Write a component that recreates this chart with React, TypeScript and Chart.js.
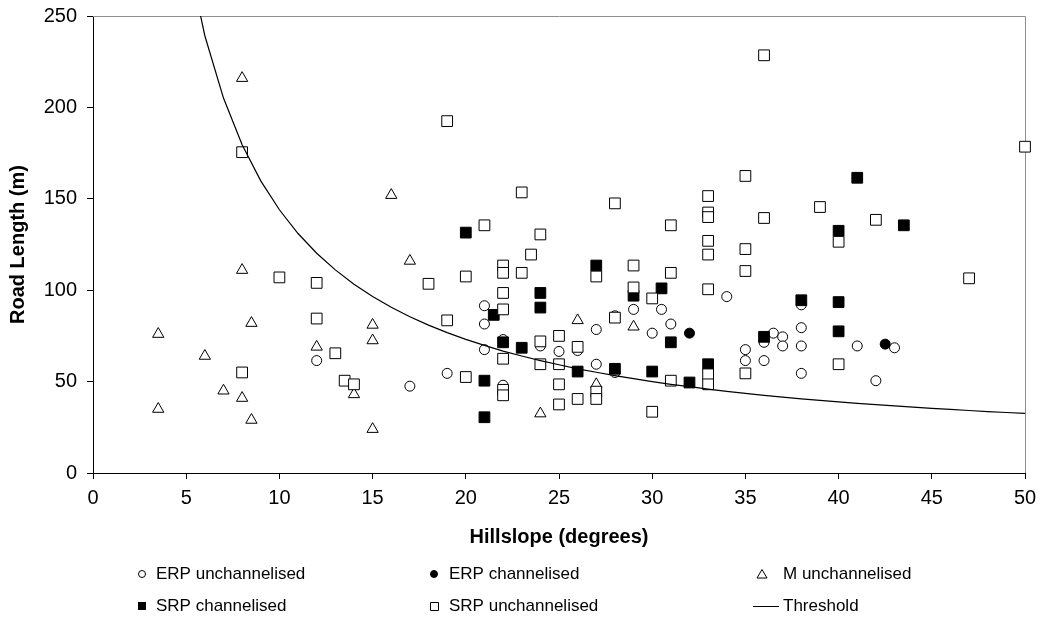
import React, { useEffect, useRef } from "react";
import { Chart, registerables } from "chart.js";

Chart.register(...registerables);

const FONT = "'Liberation Sans', Arial, Helvetica, sans-serif";

// ERP unchannelised (open circles)
const erpUnchSlope = [12, 17, 19, 21, 21, 21, 22, 22, 24, 25, 26, 27, 27, 28, 28, 29, 30, 30.5, 31, 34, 35, 35, 36, 36, 36.5, 37, 37, 38, 38, 38, 38, 41, 42, 43];
const erpUnchLength = [61.5, 47.5, 54.5, 91.5, 81.5, 67.5, 48, 73, 69.5, 66.5, 67, 78.5, 59.5, 86, 55, 89.5, 76.5, 89.5, 81.5, 96.5, 67.5, 61.5, 61.5, 71.5, 76.5, 74.5, 69.5, 92, 79.5, 69.5, 54.5, 69.5, 50.5, 68.5];

// ERP channelised (filled circles)
const erpChSlope = [32, 42.5];
const erpChLength = [76.5, 70.5];

// M unchannelised (open triangles)
const mUnchSlope = [3.5, 3.5, 6, 7, 8, 8, 8, 8.5, 8.5, 12, 14, 15, 15, 15, 16, 17, 24, 26, 27, 29];
const mUnchLength = [76, 35, 64, 45, 216, 111, 41, 82, 29, 69, 43, 81, 72.5, 24, 152, 116, 32.5, 83.5, 48.5, 80];

// SRP channelised (filled squares)
const srpChSlope = [20, 21, 21, 21.5, 22, 23, 24, 24, 26, 27, 28, 29, 30, 30.5, 31, 32, 33, 36, 38, 40, 40, 40, 41, 43.5];
const srpChLength = [131.5, 50.5, 30.5, 86.5, 71.5, 68.5, 98.5, 90.5, 55.5, 113.5, 57, 97, 55.5, 101, 71.5, 49.5, 59.5, 74.5, 94.5, 93.5, 77.5, 132.5, 161.5, 135.5];

// SRP unchannelised (open squares)
const srpUnchSlope = [8, 8, 10, 12, 12, 13, 13.5, 14, 18, 19, 19, 20, 20, 21, 22, 22, 22, 22, 22, 22, 22, 23, 23, 23.5, 24, 24, 24, 25, 25, 25, 25, 26, 26, 27, 27, 27, 28, 28, 29, 29, 30, 30, 31, 31, 31, 33, 33, 33, 33, 33, 33, 33, 33, 35, 35, 35, 35, 36, 36, 39, 40, 40, 42, 47, 50];
const srpUnchLength = [175.5, 55, 107, 104, 84.5, 65.5, 50.5, 48.5, 103.5, 192.5, 83.5, 107.5, 52.5, 135.5, 113.5, 109.5, 98.5, 89.5, 62.5, 45.5, 42.5, 153.5, 109.5, 119.5, 130.5, 72, 59.5, 75, 59.5, 48.5, 37.5, 69, 40.5, 107.5, 44.5, 40.5, 147.5, 85, 113.5, 101.5, 95.5, 33.5, 135.5, 109.5, 50.5, 151.5, 142.5, 140, 127, 119.5, 100.5, 54, 48.5, 162.5, 122.5, 110.5, 54.5, 228.5, 139.5, 145.5, 126.5, 59.5, 138.5, 106.5, 178.5];

// Threshold curve
const thresholdSlope = [5, 6, 7, 8, 9, 10, 11, 12, 13, 14, 15, 16, 17, 18, 19, 20, 21, 22, 23, 24, 25, 26, 27, 28, 29, 30, 31, 32, 33, 34, 35, 36, 37, 38, 39, 40, 41, 42, 43, 44, 45, 46, 47, 48, 49, 50];
const thresholdLength = [286.8, 239.2, 205.1, 179.6, 159.8, 144.0, 131.0, 120.2, 111.1, 103.3, 96.6, 90.7, 85.5, 80.9, 76.8, 73.1, 69.8, 66.7, 64.0, 61.5, 59.2, 57.0, 55.1, 53.3, 51.6, 50.0, 48.5, 47.2, 45.9, 44.7, 43.6, 42.5, 41.5, 40.6, 39.7, 38.9, 38.1, 37.4, 36.7, 36.0, 35.4, 34.8, 34.2, 33.6, 33.1, 32.6];

const xTickValues = [0, 5, 10, 15, 20, 25, 30, 35, 40, 45, 50];
const yTickValues = [0, 50, 100, 150, 200, 250];

const xTitle = "Hillslope (degrees)";
const yTitle = "Road Length (m)";

const legendLabels = [
  "ERP unchannelised",
  "ERP channelised",
  "M unchannelised",
  "SRP channelised",
  "SRP unchannelised",
  "Threshold",
];

const toPoints = (xs: number[], ys: number[]) => xs.map((x, i) => ({ x, y: ys[i] }));

const framePlugin = {
  id: "frameLines",
  beforeDatasetsDraw(chart: any) {
    const { ctx, chartArea } = chart;
    ctx.save();
    ctx.strokeStyle = "#8f8f8f";
    ctx.lineWidth = 1;
    ctx.beginPath();
    ctx.moveTo(chartArea.left, Math.round(chartArea.top) + 0.5);
    ctx.lineTo(Math.round(chartArea.right) + 0.5, Math.round(chartArea.top) + 0.5);
    ctx.lineTo(Math.round(chartArea.right) + 0.5, chartArea.bottom);
    ctx.stroke();
    ctx.restore();
  },
};

const legendPlugin = {
  id: "gridLegend",
  afterDraw(chart: any) {
    const ctx = chart.ctx as CanvasRenderingContext2D;
    const symX = [142, 434, 762];
    const textX = [156, 449, 783];
    const rowY = [574, 606];
    ctx.save();
    ctx.font = `17px ${FONT}`;
    ctx.textBaseline = "middle";
    ctx.textAlign = "left";
    ctx.fillStyle = "#000";
    ctx.strokeStyle = "#000";
    ctx.lineWidth = 1;
    legendLabels.forEach((label, i) => {
      const col = i % 3;
      const row = Math.floor(i / 3);
      const cx = symX[col];
      const cy = rowY[row];
      ctx.beginPath();
      if (i === 0) {
        ctx.arc(cx, cy, 3.5, 0, Math.PI * 2);
        ctx.fillStyle = "#fff";
        ctx.fill();
        ctx.stroke();
      } else if (i === 1) {
        ctx.arc(cx, cy, 3.5, 0, Math.PI * 2);
        ctx.fillStyle = "#000";
        ctx.fill();
        ctx.stroke();
      } else if (i === 2) {
        ctx.moveTo(cx, cy - 4.5);
        ctx.lineTo(cx + 5, cy + 4);
        ctx.lineTo(cx - 5, cy + 4);
        ctx.closePath();
        ctx.fillStyle = "#fff";
        ctx.fill();
        ctx.stroke();
      } else if (i === 3) {
        ctx.rect(cx - 4, cy - 4, 8, 8);
        ctx.fillStyle = "#000";
        ctx.fill();
      } else if (i === 4) {
        ctx.rect(cx - 3.5, cy - 3.5, 8, 8);
        ctx.fillStyle = "#fff";
        ctx.fill();
        ctx.stroke();
      } else {
        ctx.moveTo(cx - 9, cy + 0.5);
        ctx.lineTo(cx + 17, cy + 0.5);
        ctx.stroke();
      }
      ctx.fillStyle = "#000";
      ctx.fillText(label, textX[col], cy);
    });
    ctx.restore();
  },
};

export default function App() {
  const canvasRef = useRef<HTMLCanvasElement | null>(null);

  useEffect(() => {
    if (!canvasRef.current) return;
    const tickFont = { family: FONT, size: 20 };
    const titleFont = { family: FONT, size: 20, weight: "bold" as const };

    const chart = new Chart(canvasRef.current, {
      type: "scatter",
      data: {
        datasets: [
          {
            label: "Threshold",
            data: toPoints(thresholdSlope, thresholdLength),
            showLine: true,
            pointRadius: 0,
            borderColor: "#000",
            backgroundColor: "#000",
            borderWidth: 1.2,
            order: 0,
          } as any,
          {
            label: "SRP unchannelised",
            data: toPoints(srpUnchSlope, srpUnchLength),
            pointStyle: "rect",
            pointRadius: 7.6,
            backgroundColor: "#fff",
            borderColor: "#000",
            borderWidth: 1,
            clip: false,
            order: 1,
          } as any,
          {
            label: "SRP channelised",
            data: toPoints(srpChSlope, srpChLength),
            pointStyle: "rect",
            pointRadius: 7.6,
            backgroundColor: "#000",
            borderColor: "#000",
            borderWidth: 1,
            clip: false,
            order: 2,
          } as any,
          {
            label: "M unchannelised",
            data: toPoints(mUnchSlope, mUnchLength),
            pointStyle: "triangle",
            pointRadius: 6.5,
            backgroundColor: "#fff",
            borderColor: "#000",
            borderWidth: 1,
            clip: false,
            order: 3,
          } as any,
          {
            label: "ERP channelised",
            data: toPoints(erpChSlope, erpChLength),
            pointStyle: "circle",
            pointRadius: 5,
            backgroundColor: "#000",
            borderColor: "#000",
            borderWidth: 1,
            clip: false,
            order: 4,
          } as any,
          {
            label: "ERP unchannelised",
            data: toPoints(erpUnchSlope, erpUnchLength),
            pointStyle: "circle",
            pointRadius: 5,
            backgroundColor: "#fff",
            borderColor: "#000",
            borderWidth: 1,
            clip: false,
            order: 5,
          } as any,
        ],
      },
      options: {
        animation: false,
        responsive: false,
        devicePixelRatio: 1,
        events: [],
        layout: { padding: { top: 16, right: 14, left: 0, bottom: 0 } },
        plugins: {
          legend: { display: false },
          tooltip: { enabled: false },
        },
        scales: {
          x: {
            type: "linear",
            min: 0,
            max: 50,
            afterBuildTicks: (scale: any) => {
              scale.ticks = xTickValues.map((v) => ({ value: v }));
            },
            afterFit: (scale: any) => {
              scale.height = 155;
              scale.paddingLeft = 0;
              scale.paddingRight = 0;
              scale.paddingTop = 0;
              scale.paddingBottom = 0;
            },
            ticks: { font: tickFont, color: "#000", padding: 7, maxRotation: 0, autoSkip: false },
            grid: { display: true, drawOnChartArea: false, drawTicks: true, tickLength: 6, tickColor: "#000", color: "#000" },
            border: { display: true, color: "#000", width: 1 },
            title: {
              display: true,
              text: xTitle,
              font: titleFont,
              color: "#000",
              padding: { top: 0, bottom: 79 },
            },
          },
          y: {
            type: "linear",
            min: 0,
            max: 250,
            afterBuildTicks: (scale: any) => {
              scale.ticks = yTickValues.map((v) => ({ value: v }));
            },
            afterFit: (scale: any) => {
              scale.width = 93;
              scale.paddingLeft = 0;
              scale.paddingRight = 0;
              scale.paddingTop = 0;
              scale.paddingBottom = 0;
            },
            ticks: { font: tickFont, color: "#000", padding: 10 },
            grid: { display: true, drawOnChartArea: false, drawTicks: true, tickLength: 6, tickColor: "#000", color: "#000" },
            border: { display: true, color: "#000", width: 1 },
            title: {
              display: true,
              text: yTitle,
              font: titleFont,
              color: "#000",
              padding: { top: 6, bottom: 0 },
            },
          },
        },
      } as any,
      plugins: [framePlugin, legendPlugin],
    });
    return () => chart.destroy();
  }, []);

  return (
    <div style={{ position: "absolute", left: 0, top: 0, width: 1039, height: 628, background: "#fff" }}>
      <canvas ref={canvasRef} width={1039} height={628} style={{ display: "block", width: 1039, height: 628 }} />
    </div>
  );
}
